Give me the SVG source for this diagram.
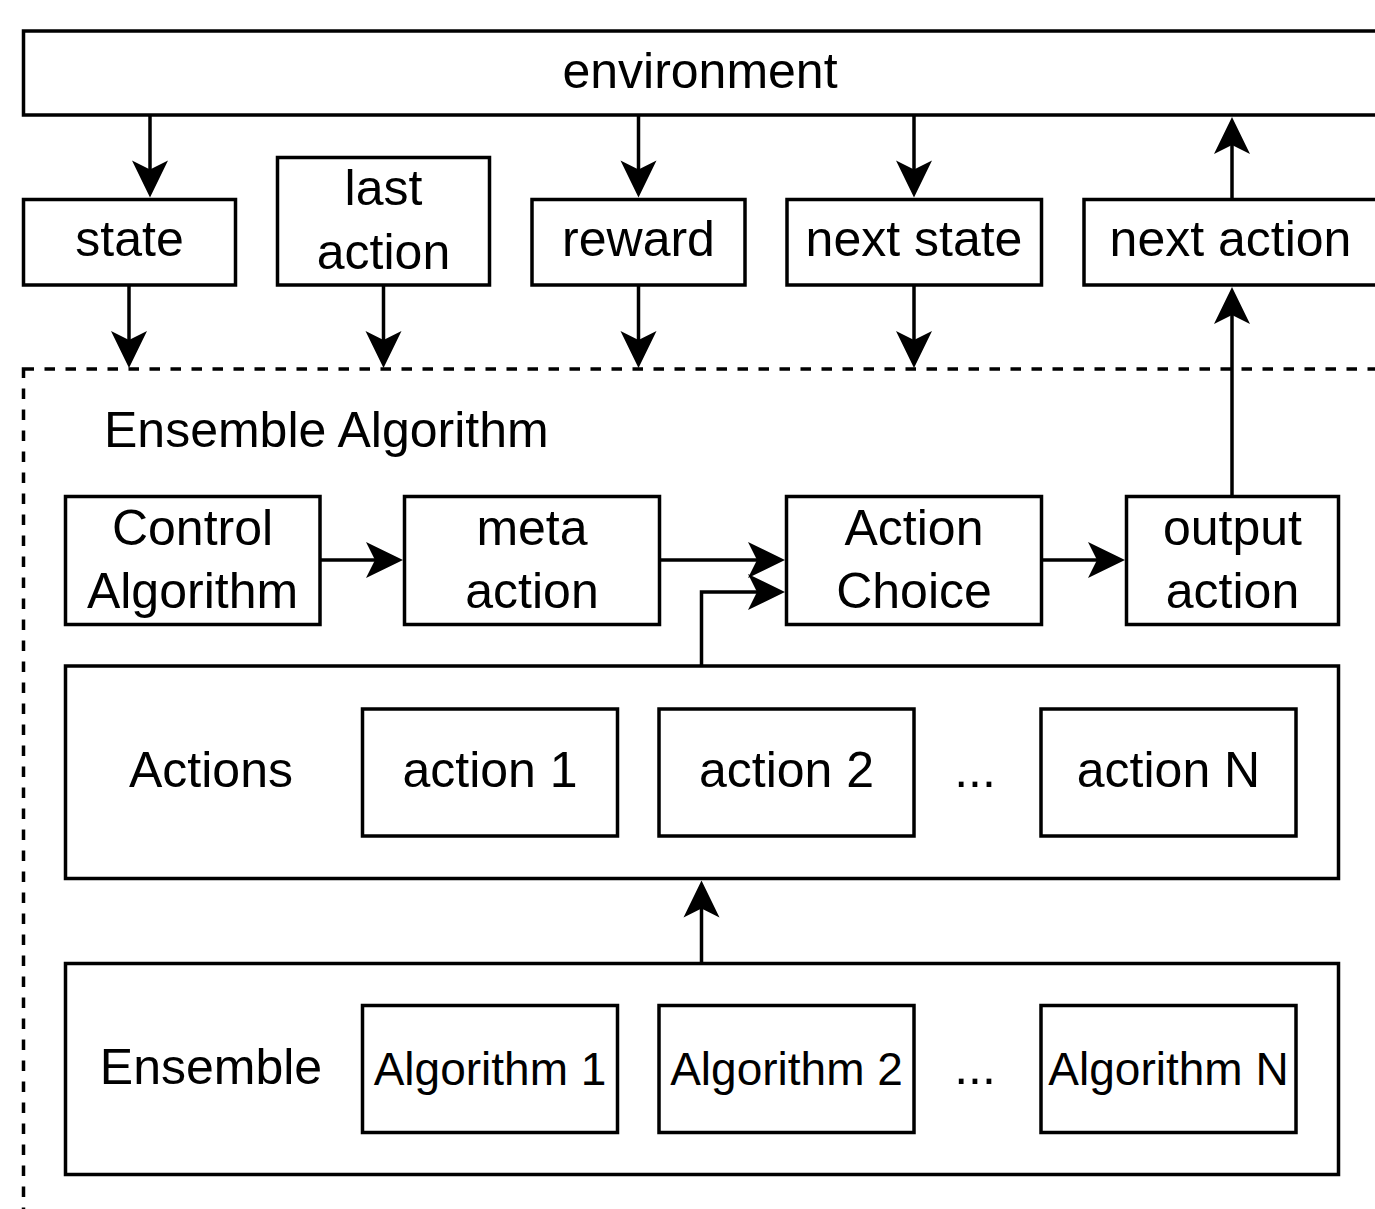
<svg xmlns="http://www.w3.org/2000/svg" width="1375" height="1209" viewBox="0 0 1375 1209">
<defs>
<style>
.box{fill:#fff;stroke:#000;stroke-width:3.5}
.dash{fill:none;stroke:#000;stroke-width:3.5;stroke-dasharray:10.5 10.5}
.t{font-family:"Liberation Sans",Arial,Helvetica,sans-serif;font-size:50px;fill:#000;text-anchor:middle}
.ts{font-size:46px}
.l{text-anchor:start}
.c{fill:none;stroke:#000;stroke-width:3.5;marker-end:url(#arr)}
</style>
<marker id="arr" markerUnits="userSpaceOnUse" viewBox="0 0 38 38" markerWidth="38" markerHeight="38" refX="22" refY="19" orient="auto" overflow="visible">
<path d="M37,19 L0,1 L9,19 L0,37 Z" fill="#000"/>
</marker>
</defs>
<rect width="1375" height="1209" fill="#fff"/>

<g id="ensemble-algorithm">
<rect class="dash" x="23.5" y="369" width="1360" height="860"/>
<text class="t l" x="104" y="447">Ensemble Algorithm</text>
</g>

<g id="environment">
<rect class="box" x="23.5" y="31" width="1354" height="84"/>
<text class="t" x="700" y="88">environment</text>
</g>
<g id="state">
<rect class="box" x="23.5" y="199.5" width="212" height="85.5"/>
<text class="t" x="129.5" y="256">state</text>
</g>
<g id="last-action">
<rect class="box" x="277.5" y="157.5" width="212" height="127.5"/>
<text class="t" x="383.5" y="205">last</text>
<text class="t" x="383.5" y="269">action</text>
</g>
<g id="reward">
<rect class="box" x="532" y="199.5" width="213" height="85.5"/>
<text class="t" x="638.5" y="256">reward</text>
</g>
<g id="next-state">
<rect class="box" x="787" y="199.5" width="254.5" height="85.5"/>
<text class="t" x="914" y="256">next state</text>
</g>
<g id="next-action">
<rect class="box" x="1084" y="199.5" width="293" height="85.5"/>
<text class="t" x="1230.5" y="256">next action</text>
</g>

<g id="control-algorithm">
<rect class="box" x="65.5" y="496.5" width="254.5" height="128"/>
<text class="t" x="192.5" y="545">Control</text>
<text class="t" x="192.5" y="608">Algorithm</text>
</g>
<g id="meta-action">
<rect class="box" x="404.5" y="496.5" width="255" height="128"/>
<text class="t" x="532" y="545">meta</text>
<text class="t" x="532" y="608">action</text>
</g>
<g id="action-choice">
<rect class="box" x="786.5" y="496.5" width="255" height="128"/>
<text class="t" x="914" y="545">Action</text>
<text class="t" x="914" y="608">Choice</text>
</g>
<g id="output-action">
<rect class="box" x="1126.5" y="496.5" width="212" height="128"/>
<text class="t" x="1232.5" y="545">output</text>
<text class="t" x="1232.5" y="608">action</text>
</g>

<g id="actions">
<rect class="box" x="65.5" y="666" width="1273" height="212.5"/>
<text class="t" x="211" y="787">Actions</text>
<text class="t" x="975" y="787">...</text>
</g>
<g id="action-1">
<rect class="box" x="362.5" y="709" width="255" height="127"/>
<text class="t" x="490" y="787">action 1</text>
</g>
<g id="action-2">
<rect class="box" x="659" y="709" width="255" height="127"/>
<text class="t" x="786.5" y="787">action 2</text>
</g>
<g id="action-n">
<rect class="box" x="1041" y="709" width="255" height="127"/>
<text class="t" x="1168.5" y="787">action N</text>
</g>

<g id="ensemble">
<rect class="box" x="65.5" y="963.5" width="1273" height="211"/>
<text class="t" x="211" y="1084">Ensemble</text>
<text class="t" x="975" y="1084">...</text>
</g>
<g id="algorithm-1">
<rect class="box" x="362.5" y="1005.5" width="255" height="127"/>
<text class="t ts" x="490" y="1085">Algorithm 1</text>
</g>
<g id="algorithm-2">
<rect class="box" x="659" y="1005.5" width="255" height="127"/>
<text class="t ts" x="786.5" y="1085">Algorithm 2</text>
</g>
<g id="algorithm-n">
<rect class="box" x="1041" y="1005.5" width="255" height="127"/>
<text class="t ts" x="1168.5" y="1085">Algorithm N</text>
</g>

<g id="connectors">
<path class="c" d="M150,115 V182.5"/>
<path class="c" d="M129,285 V353"/>
<path class="c" d="M383.5,285 V353"/>
<path class="c" d="M638.5,115 V182.5"/>
<path class="c" d="M638.5,285 V353"/>
<path class="c" d="M914,115 V182.5"/>
<path class="c" d="M914,285 V353"/>
<path class="c" d="M1232,199.5 V132"/>
<path class="c" d="M1232,496.5 V302"/>
<path class="c" d="M320,560 H388"/>
<path class="c" d="M659.5,560 H770"/>
<path class="c" d="M701.5,666 V592 H770"/>
<path class="c" d="M1041.5,560 H1110"/>
<path class="c" d="M701.5,963.5 V895.5"/>
</g>
</svg>
